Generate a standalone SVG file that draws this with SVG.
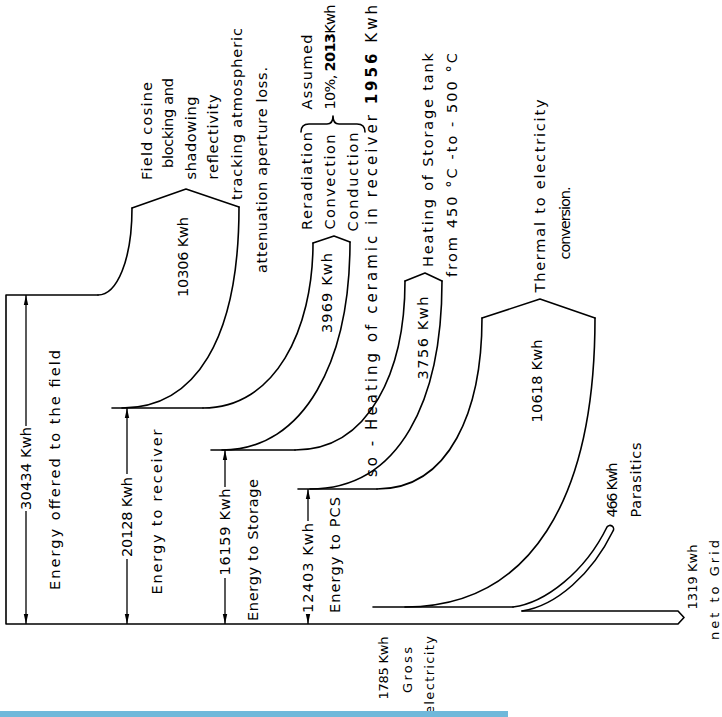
<svg xmlns="http://www.w3.org/2000/svg" width="722" height="717" viewBox="0 0 722 717">
<defs>
<style>
.l{fill:none;stroke:#000;stroke-width:1.6;stroke-linejoin:round;stroke-linecap:round}
.d{fill:none;stroke:#000;stroke-width:1.3}
.t{font-family:"DejaVu Sans","Liberation Sans",Arial,sans-serif;font-size:14.5px;fill:#000;text-anchor:middle}
.s{font-size:13px}
.g{font-size:15px}
.b{font-weight:bold}
</style>
<marker id="ah" markerWidth="10" markerHeight="6" refX="10" refY="3" orient="auto" markerUnits="userSpaceOnUse"><path d="M0,0.8 L10,3 L0,5.2z" fill="#000"/></marker>
</defs>
<rect width="722" height="717" fill="#fff"/>
<g id="connectors">
<path class="l" d="M98,295 L6,295 L6,624 L678,624 L684,617.5 L678,611 L522,611"/>
<path class="l" d="M98,295 C117,295 132,260 132,208"/>
<path class="l" d="M112,408 L203,408"/>
<path class="l" d="M122,408 C195,408 239,340 239,207"/>
<path class="l" d="M203,408 C275,408 313,330 313,243"/>
<path class="l" d="M211,450 L295,450"/>
<path class="l" d="M222,450 C305,450 350,360 350,242"/>
<path class="l" d="M295,450 C370,450 405,370 405,281"/>
<path class="l" d="M298,489 L377,489"/>
<path class="l" d="M310,489 C400,489 442,400 442,281"/>
<path class="l" d="M377,489 C450,489 482,410 482,318"/>
<path class="l" d="M373,607 L513,607"/>
<path class="l" d="M405,607 C530,607 595,500 595,318"/>
<path class="l" d="M513,607 C545,603 585,572 607,527 A3.6,3.6 0 0 1 613,531 C592,574 556,606 522,611"/>
</g>
<g id="tops">
<path class="l" d="M132,208 L186,189 L239,207"/>
<path class="l" d="M313,243 L334,236 L350,242"/>
<path class="l" d="M405,281 L425,273 L442,281"/>
<path class="l" d="M482,318 L540,299 L595,318"/>
<path class="l" d="M301,132 Q301,124 309,124 L327,124 Q333,124 333,116 Q333,124 339,124 L357,124 Q365,124 365,132"/>
</g>
<g id="dims">
<line class="d" x1="26" y1="426" x2="26" y2="295" marker-end="url(#ah)"/>
<line class="d" x1="26" y1="511" x2="26" y2="624" marker-end="url(#ah)"/>
<line class="d" x1="127" y1="474" x2="127" y2="408" marker-end="url(#ah)"/>
<line class="d" x1="127" y1="559" x2="127" y2="624" marker-end="url(#ah)"/>
<line class="d" x1="225" y1="487" x2="225" y2="450" marker-end="url(#ah)"/>
<line class="d" x1="225" y1="578" x2="225" y2="624" marker-end="url(#ah)"/>
<line class="d" x1="308" y1="521" x2="308" y2="489" marker-end="url(#ah)"/>
<line class="d" x1="308" y1="615" x2="308" y2="624" marker-end="url(#ah)"/>
</g>
<g id="field">
<text class="t" transform="translate(31,468.5) rotate(-90)" textLength="83" lengthAdjust="spacing">30434 Kwh</text>
<text class="t" transform="translate(60,470) rotate(-90)" textLength="240" lengthAdjust="spacing">Energy offered to the field</text>
</g>
<g id="receiver">
<text class="t" transform="translate(132,517) rotate(-90)" textLength="80" lengthAdjust="spacing">20128 Kwh</text>
<text class="t" transform="translate(162,512) rotate(-90)" textLength="165" lengthAdjust="spacing">Energy to receiver</text>
</g>
<g id="storage">
<text class="t" transform="translate(230,532) rotate(-90)" textLength="87" lengthAdjust="spacing">16159 Kwh</text>
<text class="t" transform="translate(258,550) rotate(-90)" textLength="142" lengthAdjust="spacing">Energy to Storage</text>
</g>
<g id="pcs">
<text class="t" transform="translate(313,568) rotate(-90)" textLength="90" lengthAdjust="spacing">12403 Kwh</text>
<text class="t" transform="translate(340,555) rotate(-90)" textLength="116" lengthAdjust="spacing">Energy to PCS</text>
</g>
<g id="loss-field">
<text class="t" transform="translate(188,257) rotate(-90)" textLength="80" lengthAdjust="spacing">10306 Kwh</text>
<text class="t" transform="translate(152,131) rotate(-90)" textLength="98" lengthAdjust="spacing">Field cosine</text>
<text class="t" transform="translate(173,123) rotate(-90)" textLength="90" lengthAdjust="spacing">blocking and</text>
<text class="t" transform="translate(196,138) rotate(-90)" textLength="83" lengthAdjust="spacing">shadowing</text>
<text class="t" transform="translate(218,137) rotate(-90)" textLength="85" lengthAdjust="spacing">reflectivity</text>
<text class="t" transform="translate(242,114) rotate(-90)" textLength="172" lengthAdjust="spacing">tracking atmospheric</text>
<text class="t" transform="translate(267,170) rotate(-90)" textLength="206" lengthAdjust="spacing">attenuation aperture loss.</text>
</g>
<g id="loss-receiver">
<text class="t" transform="translate(332,293) rotate(-90)" textLength="80" lengthAdjust="spacing">3969 Kwh</text>
<text class="t" transform="translate(312,181) rotate(-90)" textLength="98" lengthAdjust="spacing">Reradiation</text>
<text class="t" transform="translate(335,182) rotate(-90)" textLength="95" lengthAdjust="spacing">Convection</text>
<text class="t" transform="translate(358,182) rotate(-90)" textLength="99" lengthAdjust="spacing">Conduction</text>
<text class="t" transform="translate(312,72) rotate(-90)" textLength="75" lengthAdjust="spacing">Assumed</text>
<text class="t" transform="translate(335,57) rotate(-90)" textLength="105" lengthAdjust="spacing">10%, <tspan class="b">2013</tspan>Kwh</text>
<text class="t g" transform="translate(377,241) rotate(-90)" textLength="472" lengthAdjust="spacing">so - Heating of ceramic in receiver <tspan class="b">1956</tspan> Kwh</text>
</g>
<g id="loss-storage">
<text class="t" transform="translate(428,338) rotate(-90)" textLength="83" lengthAdjust="spacing">3756 Kwh</text>
<text class="t" transform="translate(433,160) rotate(-90)" textLength="214" lengthAdjust="spacing">Heating of Storage tank</text>
<text class="t" transform="translate(457,165) rotate(-90)" textLength="224" lengthAdjust="spacing">from 450 °C -to - 500 °C</text>
</g>
<g id="loss-pcs">
<text class="t" transform="translate(542,381) rotate(-90)" textLength="83" lengthAdjust="spacing">10618 Kwh</text>
<text class="t" transform="translate(545,196) rotate(-90)" textLength="193" lengthAdjust="spacing">Thermal to electricity</text>
<text class="t" transform="translate(570,223) rotate(-90)" textLength="73" lengthAdjust="spacing">conversion.</text>
</g>
<g id="parasitics">
<text class="t" transform="translate(617,490) rotate(-90)" textLength="55" lengthAdjust="spacing">466 Kwh</text>
<text class="t" transform="translate(641,480) rotate(-90)" textLength="75" lengthAdjust="spacing">Parasitics</text>
</g>
<g id="grid">
<text class="t s" transform="translate(697,577) rotate(-90)" textLength="65" lengthAdjust="spacing">1319 Kwh</text>
<text class="t s" transform="translate(719,590) rotate(-90)" textLength="100" lengthAdjust="spacing">net to Grid</text>
</g>
<g id="gross">
<text class="t s" transform="translate(388,668) rotate(-90)" textLength="63" lengthAdjust="spacing">1785 Kwh</text>
<text class="t s" transform="translate(412,670) rotate(-90)" textLength="46" lengthAdjust="spacing">Gross</text>
<text class="t s" transform="translate(434,675) rotate(-90)" textLength="78" lengthAdjust="spacing">electricity</text>
</g>
<rect x="0" y="711" width="508" height="6" fill="#70B8DA"/>
</svg>
